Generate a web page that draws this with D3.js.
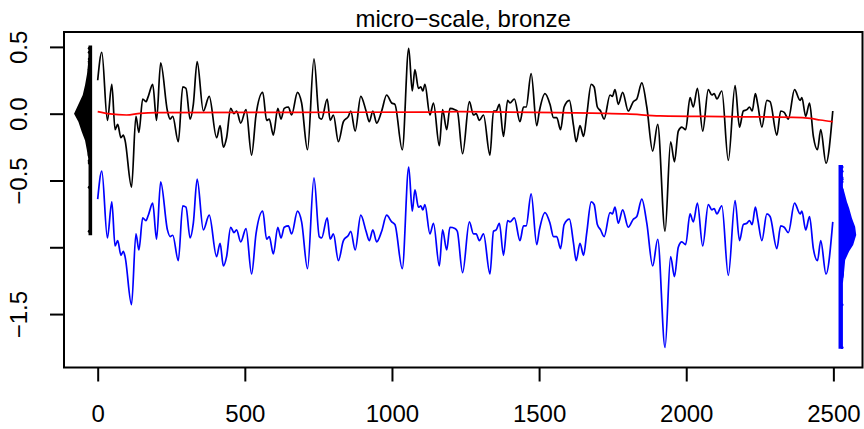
<!DOCTYPE html>
<html>
<head>
<meta charset="utf-8">
<script src="https://cdn.jsdelivr.net/npm/d3@7"></script>
<style>
  body { margin: 0; background: #fff; }
  svg { display: block; font-family: "Liberation Sans", Arial, sans-serif; }
</style>
</head>
<body>
<div id="chart"></div>
<script>
// profile (local extrema), x in samples
const profileX = [0,14,33,48,59,68,79,87,93,115,
  130,140,153,164,172,187,200,214,237,246,
  255,274,289,300,314,325,338,359,379,404,
  416,427,438,452,463,472,486,504,523,538,
  561,574,583,597,612,623,634,648,659,679,
  693,713,735,753,761,780,790,801,818,835,
  852,860,875,894,912,923,935,948,965,982,
  999,1010,1035,1057,1069,1078,1090,1098,1105,1112,
  1129,1141,1161,1172,1186,1197,1214,1222,1240,1263,
  1277,1286,1297,1311,1333,1345,1354,1365,1379,1393,
  1401,1416,1435,1447,1456,1473,1492,1501,1520,1537,
  1549,1560,1573,1585,1603,1617,1626,1639,1651,1662,
  1677,1687,1698,1709,1721,1741,1749,1758,1769,1784,
  1803,1820,1832,1849,1866,1886,1903,1928,1947,1960,
  1973,1985,1998,2013,2024,2038,2056,2075,2087,2095,
  2104,2121,2143,2166,2181,2194,2206,2215,2224,2235,
  2243,2257,2274,2285,2308,2321,2333,2347,2368,2387,
  2393,2406,2419,2432,2446,2457,2475,2498];

const profileY = [0.25,0.46,-0.05,0.22,-0.12,-0.08,-0.18,-0.16,-0.20,-0.55,
  -0.02,-0.14,0.11,0.09,0.13,0.22,-0.05,0.38,0.02,-0.04,
  -0.02,-0.21,0.20,0.19,-0.04,0.07,0.39,0.02,0.13,-0.18,
  -0.09,-0.25,-0.18,0.04,0.00,0.02,-0.07,0.03,-0.31,-0.01,
  0.16,-0.05,-0.04,-0.16,0.04,-0.04,0.04,0.05,-0.01,0.16,
  0.08,-0.27,0.41,-0.03,-0.04,0.11,-0.05,-0.01,-0.21,-0.06,
  -0.02,0.02,-0.13,0.13,0.02,-0.06,0.02,-0.07,0.02,0.14,
  0.08,0.07,-0.27,0.49,0.17,0.33,0.19,0.20,0.17,0.22,
  -0.01,0.08,-0.24,0.03,-0.12,0.04,0.03,0.02,-0.30,0.09,
  -0.01,0.00,-0.05,-0.01,-0.31,0.02,0.02,0.07,-0.17,0.10,
  0.08,0.11,-0.06,0.05,0.05,0.30,-0.09,0.02,0.15,0.07,
  -0.03,-0.03,-0.12,0.05,0.10,-0.09,-0.21,-0.09,-0.17,-0.01,
  0.22,0.20,0.05,0.02,-0.04,0.14,0.13,0.18,0.07,0.16,
  0.02,0.09,0.11,0.23,0.05,-0.28,-0.08,-0.88,-0.21,-0.36,
  -0.13,-0.10,-0.12,0.12,0.05,0.19,-0.13,0.18,0.14,0.15,
  0.11,0.17,-0.35,0.21,-0.10,0.02,0.03,0.05,0.02,0.15,
  0.07,-0.10,0.10,0.09,-0.16,0.02,0.01,-0.04,0.18,0.10,
  0.12,-0.02,0.08,-0.17,-0.27,-0.12,-0.37,0.02];

// detrended profile, shifted down (blue), same x as profile
const detrendedY = [-0.64,-0.43,-0.93,-0.66,-0.99,-0.95,-1.06,-1.03,-1.07,-1.43,
  -0.90,-1.02,-0.78,-0.80,-0.76,-0.67,-0.94,-0.51,-0.87,-0.92,
  -0.91,-1.10,-0.69,-0.70,-0.93,-0.82,-0.49,-0.87,-0.76,-1.07,
  -0.97,-1.14,-1.07,-0.85,-0.89,-0.87,-0.96,-0.86,-1.20,-0.90,
  -0.73,-0.94,-0.92,-1.05,-0.85,-0.93,-0.85,-0.84,-0.90,-0.73,
  -0.81,-1.16,-0.48,-0.92,-0.93,-0.78,-0.94,-0.90,-1.10,-0.95,
  -0.91,-0.88,-1.02,-0.76,-0.88,-0.95,-0.87,-0.96,-0.88,-0.76,
  -0.81,-0.83,-1.16,-0.40,-0.73,-0.57,-0.70,-0.69,-0.72,-0.68,
  -0.90,-0.82,-1.14,-0.87,-1.02,-0.85,-0.86,-0.88,-1.19,-0.81,
  -0.90,-0.90,-0.95,-0.90,-1.20,-0.88,-0.87,-0.82,-1.06,-0.80,
  -0.81,-0.78,-0.95,-0.84,-0.84,-0.60,-0.98,-0.87,-0.74,-0.82,
  -0.92,-0.92,-1.01,-0.83,-0.79,-0.97,-1.10,-0.97,-1.06,-0.89,
  -0.66,-0.68,-0.83,-0.87,-0.92,-0.74,-0.75,-0.70,-0.82,-0.72,
  -0.85,-0.79,-0.77,-0.64,-0.82,-1.14,-0.94,-1.75,-1.07,-1.22,
  -1.00,-0.96,-0.98,-0.75,-0.81,-0.67,-0.99,-0.68,-0.72,-0.71,
  -0.75,-0.69,-1.21,-0.65,-0.95,-0.83,-0.82,-0.80,-0.83,-0.70,
  -0.79,-0.95,-0.75,-0.77,-1.01,-0.84,-0.85,-0.89,-0.67,-0.75,
  -0.73,-0.87,-0.77,-1.01,-1.10,-0.95,-1.20,-0.81];

// smooth trend (red)
const trendX = [0,42,98,144,200,654,1107,1231,1571,1798,1911,2138,2364,2421,2455,2498];
const trendY = [0.015,-0.002,-0.010,0.003,0.008,0.010,0.012,0.015,0.008,-0.002,-0.017,-0.022,-0.027,-0.035,-0.047,-0.060];

// value distributions drawn as strips beside the plot
const leftStripX = -25;
const leftLevels = [0.51,0.39,0.30,0.215,0.14,0.065,0.0,-0.06,-0.135,-0.20,-0.27,-0.35,-0.91];
const leftDensity = [0.0,0.02,0.10,0.24,0.40,0.72,1.0,0.70,0.47,0.24,0.12,0.0,0.0];
const rightStripX = 2525;
const rightLevels = [-0.384,-0.55,-0.584,-0.659,-0.708,-0.783,-0.846,-0.908,-0.983,-1.03,-1.095,-1.17,-1.27,-1.76];
const rightDensity = [0,0,0.10,0.30,0.47,0.68,0.92,1.0,0.77,0.47,0.17,0.10,0,0];

const xTicks = [0,500,1000,1500,2000,2500];
const yTicks = [0.5,0,-0.5,-1,-1.5];
const yLabels = ['0.5','0.0','\u22120.5','','\u22121.5'];
const title = 'micro\u2212scale, bronze';

const width = 864, height = 429;
const plot = { left: 64, top: 32, right: 862.5, bottom: 367.5 };

const svg = d3.select('#chart').append('svg').attr('width', width).attr('height', height);

const x = d3.scaleLinear().domain([-114.5, 2599]).range([plot.left, plot.right]);
const y = d3.scaleLinear().domain([-1.9, 0.6115]).range([plot.bottom, plot.top]);

const line = d3.line().x(d => x(d[0])).y(d => y(d[1])).curve(d3.curveMonotoneX);

svg.append('path')
  .attr('d', line(profileX.map((v, i) => [v, profileY[i]])))
  .attr('fill', 'none').attr('stroke', '#000').attr('stroke-width', 1.7);

svg.append('path')
  .attr('d', line(trendX.map((v, i) => [v, trendY[i]])))
  .attr('fill', 'none').attr('stroke', '#ff0000').attr('stroke-width', 1.7);

svg.append('path')
  .attr('d', line(profileX.map((v, i) => [v, detrendedY[i]])))
  .attr('fill', 'none').attr('stroke', '#0000ff').attr('stroke-width', 1.7);

function drawStrip(base, levels, density, values, color, dir, half, maxW) {
  const x0 = x(base);
  const area = d3.area()
    .y(d => y(d[0]))
    .x0(x0 - dir * half)
    .x1(d => x0 + dir * (half + d[1] * maxW));
  svg.append('path')
    .attr('d', area(levels.map((v, i) => [v, density[i]])))
    .attr('fill', color);
  svg.append('g').selectAll('circle')
    .data(values)
    .enter()
    .append('circle')
    .attr('cx', x0 + dir * half * 0.6)
    .attr('cy', d => y(d))
    .attr('r', 1.5)
    .attr('fill', color);
}

drawStrip(leftStripX, leftLevels, leftDensity, profileY, '#000', -1, 1.8, 14.5);
drawStrip(rightStripX, rightLevels, rightDensity, detrendedY, '#0000ff', 1, 2.2, 13.3);

// box
svg.append('rect')
  .attr('x', plot.left).attr('y', plot.top)
  .attr('width', plot.right - plot.left).attr('height', plot.bottom - plot.top)
  .attr('fill', 'none').attr('stroke', '#000').attr('stroke-width', 2);

const xAxis = svg.append('g')
  .attr('transform', `translate(0,${plot.bottom})`)
  .call(d3.axisBottom(x).tickValues(xTicks).tickSize(14).tickFormat(d3.format('d')));
xAxis.select('.domain').remove();
xAxis.selectAll('line').attr('stroke', '#000').attr('stroke-width', 2);
xAxis.selectAll('text')
  .attr('y', 54.2).attr('dy', 0)
  .attr('fill', '#000').style('font-size', '24px')
  .style('font-family', '"Liberation Sans", Arial, sans-serif');

const yAxis = svg.append('g')
  .attr('transform', `translate(${plot.left},0)`)
  .call(d3.axisLeft(y).tickValues(yTicks).tickSize(14).tickFormat((d, i) => yLabels[i]));
yAxis.select('.domain').remove();
yAxis.selectAll('line').attr('stroke', '#000').attr('stroke-width', 2);
yAxis.selectAll('text')
  .attr('x', 0).attr('dy', 0)
  .attr('text-anchor', 'middle')
  .attr('transform', `translate(${26.7 - plot.left},0) rotate(-90)`)
  .attr('fill', '#000').style('font-size', '24px')
  .style('font-family', '"Liberation Sans", Arial, sans-serif');

svg.append('text')
  .attr('x', (plot.left + plot.right) / 2)
  .attr('y', 26.7)
  .attr('text-anchor', 'middle')
  .style('font-size', '24px')
  .text(title);
</script>
</body>
</html>
